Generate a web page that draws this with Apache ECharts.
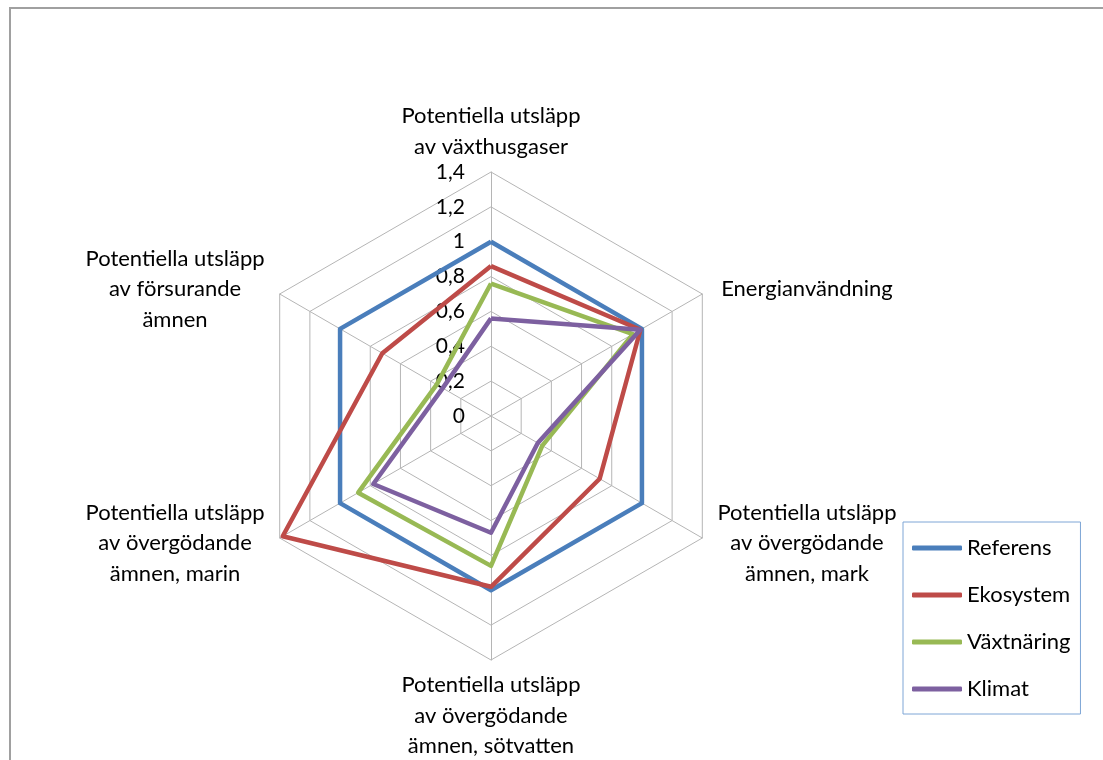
<!DOCTYPE html>
<html>
<head>
<meta charset="utf-8">
<script src="https://cdn.jsdelivr.net/npm/echarts@6/dist/echarts.min.js"></script>
<style>
  body { margin: 0; background: #fff; }
  #frame { position: absolute; left: 9px; top: 7px; width: 1200px; height: 800px;
           border-left: 2px solid #a0a0a0; border-top: 2px solid #a0a0a0; }
  #radar { position: absolute; left: 0; top: 0; width: 1103px; height: 760px; }
</style>
</head>
<body>
<div id="frame"></div>
<div id="radar"></div>
<script>
// axes, clockwise from the top as in the original chart
var categories = [
    'Potentiella utsläpp\nav växthusgaser',
    'Energianvändning',
    'Potentiella utsläpp\nav övergödande\nämnen, mark',
    'Potentiella utsläpp\nav övergödande\nämnen, sötvatten',
    'Potentiella utsläpp\nav övergödande\nämnen, marin',
    'Potentiella utsläpp\nav försurande\nämnen'
];
var seriesNames = ['Referens', 'Ekosystem', 'Växtnäring', 'Klimat'];
var referens   = [1, 1, 1, 1, 1, 1];
var ekosystem  = [0.86, 0.99, 0.72, 0.98, 1.38, 0.72];
var vaxtnaring = [0.76, 0.94, 0.34, 0.86, 0.88, 0.36];
var klimat     = [0.56, 0.99, 0.31, 0.67, 0.78, 0.32];
var axisMax = 1.4;
var axisSteps = 7;

var colors = ['#4a7ebb', '#be4b48', '#98b954', '#7d60a0'];
var font = 'Lato';

// echarts puts radar axes counterclockwise, so flip the order
function ccw(arr) {
    return [arr[0]].concat(arr.slice(1).reverse());
}

var myChart = echarts.init(document.getElementById('radar'));

var indicators = ccw(categories).map(function (name, i) {
    var ind = { name: name, min: 0, max: axisMax };
    if (i === 0) {
        ind.axisLabel = {
            show: true,
            color: '#000',
            fontFamily: font,
            fontSize: 21,
            margin: 26,
            formatter: function (v) {
                return String(+(+v).toFixed(1)).replace('.', ',');
            }
        };
    }
    return ind;
});

var values = [referens, ekosystem, vaxtnaring, klimat];

var option = {
    animation: false,
    legend: {
        data: seriesNames,
        orient: 'vertical',
        left: 903,
        top: 522,
        icon: 'roundRect',
        itemWidth: 50,
        itemHeight: 5,
        itemGap: 25,
        padding: [15, 10, 14, 9],
        borderColor: '#7ea6d6',
        borderWidth: 1,
        textStyle: { color: '#000', fontFamily: font, fontSize: 22 }
    },
    radar: {
        center: [491, 416],
        radius: 244,
        startAngle: 90,
        splitNumber: axisSteps,
        shape: 'polygon',
        nameGap: 10,
        axisName: {
            color: '#000',
            fontFamily: font,
            fontSize: 22,
            formatter: function (name) {
                return name.split('\n').map(function (l) {
                    return '{a|' + l + '}';
                }).join('\n');
            },
            rich: {
                a: { width: 192, align: 'center', lineHeight: 30.5,
                     fontFamily: font, fontSize: 22, color: '#000' }
            }
        },
        splitLine: { lineStyle: { color: '#b5b5b5', width: 1 } },
        splitArea: { show: false },
        axisLine: { lineStyle: { color: '#b5b5b5', width: 1 } },
        indicator: indicators
    },
    series: [
        {
            type: 'radar',
            symbol: 'none',
            data: values.map(function (v, i) {
                return {
                    name: seriesNames[i],
                    value: ccw(v),
                    itemStyle: { color: colors[i] },
                    lineStyle: { color: colors[i], width: 4.5 }
                };
            })
        }
    ]
};

myChart.setOption(option);
</script>
</body>
</html>
